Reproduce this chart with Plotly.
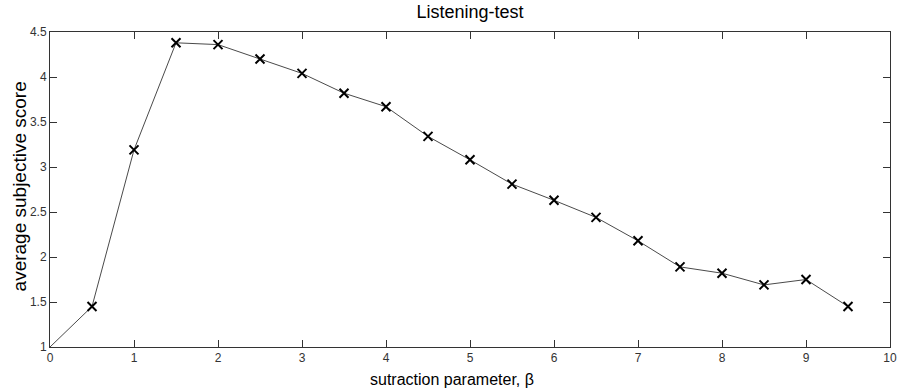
import plotly.graph_objects as go

beta = [0, 0.5, 1, 1.5, 2, 2.5, 3, 3.5, 4, 4.5, 5, 5.5, 6, 6.5, 7, 7.5, 8, 8.5, 9, 9.5]
score = [1.0, 1.45, 3.19, 4.38, 4.36, 4.20, 4.04, 3.82, 3.67, 3.34, 3.08, 2.81, 2.63, 2.44, 2.18, 1.89, 1.82, 1.69, 1.75, 1.45]
x_ticks = [0, 1, 2, 3, 4, 5, 6, 7, 8, 9, 10]
y_ticks = [1, 1.5, 2, 2.5, 3, 3.5, 4, 4.5]
y_tick_labels = ["1", "1.5", "2", "2.5", "3", "3.5", "4", "4.5"]
x_title = "sutraction parameter, β"
y_title = "average subjective score"

fig = go.Figure()
fig.add_trace(go.Scatter(
    x=beta, y=score, mode="lines",
    line=dict(color="#4a4a4a", width=1),
    showlegend=False, hoverinfo="skip",
))
fig.add_trace(go.Scatter(
    x=beta[1:], y=score[1:], mode="markers",
    marker=dict(symbol="x-thin", size=9, line=dict(color="black", width=2)),
    showlegend=False,
))

axis_common = dict(
    showgrid=False, zeroline=False, showline=True, linecolor="#333333", linewidth=1,
    mirror="ticks", ticks="inside", ticklen=7, tickcolor="#333333", tickwidth=1,
    automargin=False, ticklabeloverflow="allow",
    tickfont=dict(family="Liberation Sans, Arial", size=12, color="#333333"),
)

fig.update_layout(
    width=897, height=389,
    margin=dict(l=50, r=7, t=32, b=42),
    paper_bgcolor="white", plot_bgcolor="white",
    title=dict(text="Listening-test", x=0.5, xanchor="center", y=0.97, yanchor="middle",
               xref="paper", automargin=False,
               font=dict(family="Liberation Sans, Arial", size=18, color="black")),
    xaxis=dict(range=[0, 10], tickvals=x_ticks, **axis_common),
    yaxis=dict(range=[1, 4.5], tickvals=y_ticks, ticktext=y_tick_labels, **axis_common),
    annotations=[
        dict(text=x_title, xref="paper", yref="paper", x=0.478, y=-0.103,
             xanchor="center", yanchor="middle", showarrow=False,
             font=dict(family="Liberation Sans, Arial", size=16, color="black")),
        dict(text=y_title, xref="paper", yref="paper", x=-0.036, y=0.509,
             xanchor="center", yanchor="middle", showarrow=False, textangle=-90,
             font=dict(family="Liberation Sans, Arial", size=19, color="black")),
    ],
)

fig.write_html("out.html", config={"displayModeBar": False},
               post_script="document.body.style.margin='0';document.body.style.overflow='hidden';")
